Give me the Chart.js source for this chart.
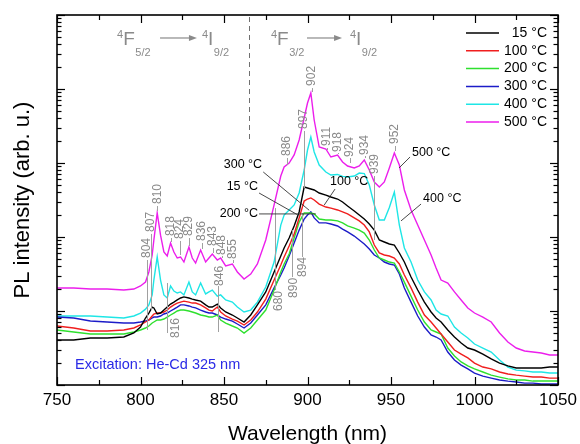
<!DOCTYPE html>
<html>
<head>
<meta charset="utf-8">
<script src="https://cdn.jsdelivr.net/npm/chart.js@4"></script>
<style>
  html, body { margin: 0; padding: 0; background: #ffffff; }
  canvas { display: block; }
</style>
</head>
<body>
<canvas id="pl" width="580" height="444"></canvas>
<script>
// Photoluminescence spectra of Nd3+ emission at several temperatures
const FONT = '"Liberation Sans", Arial, Helvetica, sans-serif';

const wavelengths = [750,760,770,780,790,796,800,803,805,807,808,810,812,814,816,818,820,822,824,826,
  829,831,833,836,839,841,843,846,848,851,855,858,862,866,870,875,880,884,886,889,
  892,895,898,900,902,904,907,911,914,918,921,924,928,931,934,937,940,943,946,949,
  952,955,958,962,966,970,974,977,980,984,988,992,996,1000,1005,1010,1015,1020,1025,1030,
  1035,1040,1045,1050];

const pl15 = [4.06,4.06,4.32,4.32,4.45,5.04,6.08,8.04,9.39,11.3, 11.0,9.11,9.39,10.3,11.3,
  12.4,13.2,14.1,15.0,15.5, 15.0,14.5,14.1,13.6,12.1, 11.3,11.3,12.4,11.0,9.69,
  8.83,8.04,7.10,8.83,12.1, 18.1,33.7,55.4,71.0,96.9, 141,218,474,459,445,
  432,393,369,347,326, 297,262,225,198,175, 150,124,91.1,85.6,80.4,
  77.9,60.8,45.9,28.8,19.2, 13.2,9.69,8.04,7.10,5.54, 4.45,3.69,3.16,2.97,2.62,
  2.25,1.98,1.81,1.70,1.70, 1.70,1.70,1.75,1.75];

const pl100 = [6.27,5.89,5.37,5.37,5.54,5.89,6.47,7.10,7.56,8.56, 9.11,9.39,9.39,9.69,10.3,
  11.3,12.1,12.8,13.2,13.6, 13.2,12.8,12.8,12.1,11.0, 10.3,10.0,11.3,9.69,8.56,
  7.79,7.32,6.47,7.56,9.69, 14.5,26.2,41.8,53.7,75.6, 110,181,306,326,337,
  316,279,254,246,232, 218,205,181,165,145, 117,77.9,60.8,57.1,55.4,
  52.0,43.2,30.6,20.5,13.2, 8.83,7.10,5.89,4.89,3.81, 2.97,2.62,2.32,1.98,1.75,
  1.65,1.50,1.41,1.36,1.32, 1.28,1.28,1.24,1.24];

const pl200 = [5.54,5.20,4.89,4.89,4.89,5.20,5.54,5.89,6.27,6.88, 7.10,7.56,7.56,7.79,8.29,
  8.83,9.39,10.0,10.3,10.3, 10.0,9.69,9.39,8.83,8.56, 8.29,8.29,8.83,7.56,6.88,
  6.27,5.89,5.04,5.89,7.56, 10.3,19.2,33.7,43.2,58.9, 96.9,159,211,211,211,
  205,175,170,170,165, 155,141,132,124,113, 91.1,66.7,52.0,48.9,45.9,
  44.5,33.7,24.6,15.9,10.3, 7.10,5.54,5.20,4.89,3.16, 2.46,2.05,1.81,1.65,1.50,
  1.36,1.28,1.21,1.17,1.17, 1.13,1.13,1.13,1.13];

const pl300 = [8.29,8.04,7.32,7.10,6.88,6.88,7.10,7.32,7.56,8.04, 8.29,8.29,8.56,9.11,9.39,
  10.0,10.6,11.3,12.1,12.1, 11.7,11.3,11.0,10.3,9.69, 9.39,9.39,8.83,8.29,7.79,
  7.32,6.67,5.89,6.88,8.83, 12.1,20.5,30.6,38.1,55.4, 82.9,124,175,198,218,
  181,155,155,150,141, 128,117,103,91.1,80.4, 68.8,57.1,52.0,45.9,43.2,
  41.8,31.6,20.5,13.2,8.56, 6.08,4.74,4.45,4.06,2.79, 2.18,1.86,1.65,1.45,1.32,
  1.24,1.17,1.13,1.10,1.06, 1.06,1.03,1.03,1.03];

const pl400 = [8.56,8.56,8.56,8.29,8.04,8.56,9.39,10.6,12.1,16.5, 26.2,53.7,26.2,16.5,15.0,
  21.8,18.6,17.5,18.1,16.5, 24.6,18.1,16.5,23.9,17.0, 18.1,19.2,15.9,16.5,14.1,
  13.2,11.3,9.69,10.3,13.2, 21.1,45.9,145,198,232, 271,393,804,1498,2245,
  1408,939,756,688,700, 660,647,667,732,720, 504,271,170,170,250,
  406,145,71.0,45.9,26.2, 18.1,14.1,10.3,9.11,8.56, 6.08,5.04,4.32,3.58,3.16,
  2.79,2.18,1.75,1.59,1.55, 1.50,1.50,1.45,1.45];

const pl500 = [20.5,20.5,19.8,19.8,19.2,19.8,21.8,24.6,33.7,57.1, 91.1,211,106,62.7,55.4,
  82.9,62.7,52.0,53.7,45.9, 73.2,52.0,44.5,66.7,45.9, 52.0,58.9,48.9,52.0,40.6,
  43.2,33.7,27.1,31.6,43.2, 91.1,271,667,883,1000, 1283,2045,4056,6467,8827,
  3811,1645,1546,1205,1283, 1032,911,856,911,1098, 804,554,474,554,856,
  1365,939,432,232,145, 91.1,57.1,38.1,26.2,23.9, 18.1,14.1,11.0,9.39,8.29,
  7.10,5.04,3.81,3.16,2.88, 2.79,2.71,2.54,2.54];

const seriesNames  = ['15 °C', '100 °C', '200 °C', '300 °C', '400 °C', '500 °C'];
const seriesValues = [pl15, pl100, pl200, pl300, pl400, pl500];
const seriesColors = ['#000000', '#f01e1e', '#2ee02e', '#1c1cc8', '#1ee6e6', '#ec1eec'];

// Peak assignments: text, wavelength of text, where the text starts (intensity),
// and the gray leader line span (intensity), optionally at its own wavelength
const peakMarks = [
  {t:'804', x:804,   base:52.0,  line:[48.9, 5.54]},
  {t:'807', x:806,   base:117,   line:[110, 10.3]},
  {t:'810', x:810,   base:279,   line:[262, 225]},
  {t:'818', x:818.3, base:103,   line:[96.9, 85.6]},
  {t:'824', x:823.7, base:93.9,  line:[88.3, 57.1]},
  {t:'829', x:829,   base:103,   line:[96.9, 75.6]},
  {t:'836', x:836.8, base:88.3,  line:[82.9, 68.8]},
  {t:'843', x:843.4, base:75.6,  line:[71.0, 60.8]},
  {t:'848', x:848.8, base:57.1,  line:[55.4, 52.0]},
  {t:'855', x:855.4, base:50.4,  line:[48.9, 44.5]},
  {t:'886', x:887.7, base:1243,  line:[1168, 939]},
  {t:'897', x:897.9, base:2880,  line:[2706, 459]},
  {t:'902', x:902.7, base:11000, line:[10300, 9100]},
  {t:'911', x:911.7, base:1697,  line:[1595, 1498]},
  {t:'918', x:918.3, base:1408,  line:[1365, 1323]},
  {t:'924', x:925.4, base:1205,  line:[1168, 1000]},
  {t:'934', x:934.4, base:1283,  line:[1243, 1168]},
  {t:'939', x:940,   base:710,   line:[667, 91.1]},
  {t:'952', x:952.4, base:1806,  line:[1697, 1453]},
  {t:'816', x:821,   base:4.32,  lineX:815.9, line:[23.9, 5.04]},
  {t:'846', x:847.6, base:21.8,  lineX:846.4, line:[21.8, 5.20]},
  {t:'680', x:883,   base:10.0,  lineX:880.5, line:[246, 19.2]},
  {t:'890', x:892,   base:15.0,  lineX:890.7, line:[124, 28.8]},
  {t:'894', x:897.3, base:28.8,  lineX:896.7, line:[211, 53.7]}
];

// Temperature call-outs with their leader lines
const tempNotes = [
  {t:'300 °C', x:872.8, y:939, align:'right', from:[873.5, 756], to:[901, 230]},
  {t:'15 °C',  x:870.4, y:474, align:'right', from:[871, 393],   to:[894, 200]},
  {t:'200 °C', x:870.4, y:205, align:'right', from:[871, 205],   to:[905, 205]},
  {t:'100 °C', x:913.5, y:554, align:'left',  from:[916.5, 445], to:[910, 270]},
  {t:'500 °C', x:962.6, y:1365, align:'left', from:[961.4, 1205], to:[954.8, 856]},
  {t:'400 °C', x:969.2, y:326, align:'left',  from:[968, 279],   to:[956, 165]}
];

// Log-axis tick values (decades and their minor subdivisions)
const yTickValues = [];
for (let e = 0; e < 5; e++) for (let k = 1; k < 10; k++) yTickValues.push(k * Math.pow(10, e));
yTickValues.push(1e5);

function seg(ctx, x1, y1, x2, y2) {
  ctx.beginPath(); ctx.moveTo(x1, y1); ctx.lineTo(x2, y2); ctx.stroke();
}

function levelText(ctx, x, yb, sup, main, sub) {
  ctx.textAlign = 'left'; ctx.textBaseline = 'alphabetic';
  ctx.font = '11px ' + FONT; ctx.fillText(sup, x, yb - 7);
  x += ctx.measureText(sup).width;
  ctx.font = '19px ' + FONT; ctx.fillText(main, x, yb);
  x += ctx.measureText(main).width + 0.5;
  ctx.font = '11px ' + FONT; ctx.fillText(sub, x, yb + 11);
}

function arrow(ctx, x1, x2, y) {
  seg(ctx, x1, y, x2 - 6, y);
  ctx.beginPath(); ctx.moveTo(x2, y); ctx.lineTo(x2 - 8, y - 3); ctx.lineTo(x2 - 8, y + 3); ctx.closePath(); ctx.fill();
}

const decorations = {
  id: 'decorations',
  beforeDraw(chart) {
    const ctx = chart.ctx;
    ctx.save(); ctx.fillStyle = '#ffffff'; ctx.fillRect(0, 0, chart.width, chart.height); ctx.restore();
  },
  afterDatasetsDraw(chart) {
    const {ctx, chartArea: a, scales: {x, y}} = chart;
    const X = v => x.getPixelForValue(v);
    const Y = v => y.getPixelForValue(v);
    ctx.save();

    // peak assignments
    ctx.strokeStyle = '#a0a0a0'; ctx.fillStyle = '#8a8a8a'; ctx.lineWidth = 1;
    ctx.font = '12px ' + FONT;
    peakMarks.forEach(p => {
      const lx = Math.round(X(p.lineX !== undefined ? p.lineX : p.x)) + 0.5;
      seg(ctx, lx, Y(p.line[0]), lx, Y(p.line[1]));
      ctx.save();
      ctx.translate(X(p.x), Y(p.base));
      ctx.rotate(-Math.PI / 2);
      ctx.textAlign = 'left'; ctx.textBaseline = 'middle';
      ctx.fillText(p.t, 0, 0);
      ctx.restore();
    });

    // transition labels
    ctx.fillStyle = '#8a8a8a'; ctx.strokeStyle = '#8a8a8a'; ctx.lineWidth = 1.2;
    levelText(ctx, X(786), Y(39300), '4', 'F', '5/2');
    arrow(ctx, X(811.7), X(833.8), Y(48900));
    levelText(ctx, X(836.8), Y(39300), '4', 'I', '9/2');
    levelText(ctx, X(878.1), Y(39300), '4', 'F', '3/2');
    arrow(ctx, X(899.7), X(920.7), Y(48900));
    levelText(ctx, X(925.4), Y(39300), '4', 'I', '9/2');

    // dashed separator between the two transitions
    ctx.strokeStyle = '#707070'; ctx.lineWidth = 1; ctx.setLineDash([5, 4]);
    const dx = Math.round(X(865)) + 0.5;
    seg(ctx, dx, a.top + 2, dx, Y(2045));
    ctx.setLineDash([]);

    // temperature call-outs
    ctx.strokeStyle = '#333333'; ctx.fillStyle = '#000000'; ctx.lineWidth = 0.9;
    ctx.font = '12.5px ' + FONT; ctx.textBaseline = 'middle';
    tempNotes.forEach(n => {
      seg(ctx, X(n.from[0]), Y(n.from[1]), X(n.to[0]), Y(n.to[1]));
      ctx.textAlign = n.align;
      ctx.fillText(n.t, X(n.x), Y(n.y));
    });

    // excitation note
    ctx.fillStyle = '#2a2ae6'; ctx.font = '14.5px ' + FONT; ctx.textAlign = 'left';
    ctx.fillText('Excitation: He-Cd 325 nm', X(760.8), Y(1.86));

    // legend
    ctx.font = '14px ' + FONT; ctx.textAlign = 'right'; ctx.textBaseline = 'middle';
    chart.data.datasets.forEach((ds, i) => {
      const ly = a.top + 18 + i * 17.8;
      ctx.strokeStyle = ds.borderColor; ctx.lineWidth = 1.5;
      seg(ctx, a.right - 92, ly, a.right - 59, ly);
      ctx.fillStyle = '#000000';
      ctx.fillText(ds.label, a.right - 11, ly);
    });

    // frame and inward ticks
    ctx.strokeStyle = '#000000'; ctx.lineWidth = 1.2;
    x.ticks.forEach(t => {
      const px = Math.round(X(t.value)) + 0.5;
      const len = t.value % 50 === 0 ? 8 : 5;
      seg(ctx, px, a.bottom, px, a.bottom - len);
      seg(ctx, px, a.top, px, a.top + len);
    });
    yTickValues.forEach(v => {
      const py = Math.round(Y(v)) + 0.5;
      const len = Math.abs(Math.log10(v) - Math.round(Math.log10(v))) < 1e-9 ? 8 : 4.5;
      seg(ctx, a.left, py, a.left + len, py);
      seg(ctx, a.right, py, a.right - len, py);
    });
    ctx.lineWidth = 1.6;
    ctx.strokeRect(a.left, a.top, a.right - a.left, a.bottom - a.top);
    ctx.restore();
  }
};

Chart.defaults.font.family = FONT;

new Chart(document.getElementById('pl'), {
  type: 'line',
  data: {
    datasets: seriesValues.map((vals, i) => ({
      label: seriesNames[i],
      data: wavelengths.map((w, j) => ({x: w, y: vals[j]})),
      borderColor: seriesColors[i],
      borderWidth: 1.4,
      pointRadius: 0,
      fill: false,
      tension: 0
    }))
  },
  options: {
    responsive: false,
    animation: false,
    devicePixelRatio: 1,
    layout: {padding: {top: 15, right: 22, left: 0, bottom: 0}},
    plugins: {legend: {display: false}, tooltip: {enabled: false}},
    scales: {
      x: {
        type: 'linear', min: 750, max: 1050,
        grid: {display: false, drawTicks: false},
        border: {display: false},
        ticks: {
          stepSize: 25, autoSkip: false, maxRotation: 0, padding: 5,
          color: '#000000', font: {size: 17},
          callback: v => (v % 50 === 0 ? String(v) : '')
        },
        title: {display: true, text: 'Wavelength (nm)', color: '#000000', font: {size: 21, lineHeight: 0.9}, padding: {top: 0, bottom: 0}},
        afterFit(s) { s.height = 59; s.paddingLeft = 0; s.paddingRight = 0; }
      },
      y: {
        type: 'logarithmic', min: 1, max: 100000,
        grid: {display: false, drawTicks: false},
        border: {display: false},
        ticks: {display: false},
        title: {display: true, text: 'PL intensity (arb. u.)', color: '#000000', font: {size: 22}, padding: {top: 10, bottom: 0}},
        afterFit(s) { s.width = 57; }
      }
    }
  },
  plugins: [decorations]
});
</script>
</body>
</html>
